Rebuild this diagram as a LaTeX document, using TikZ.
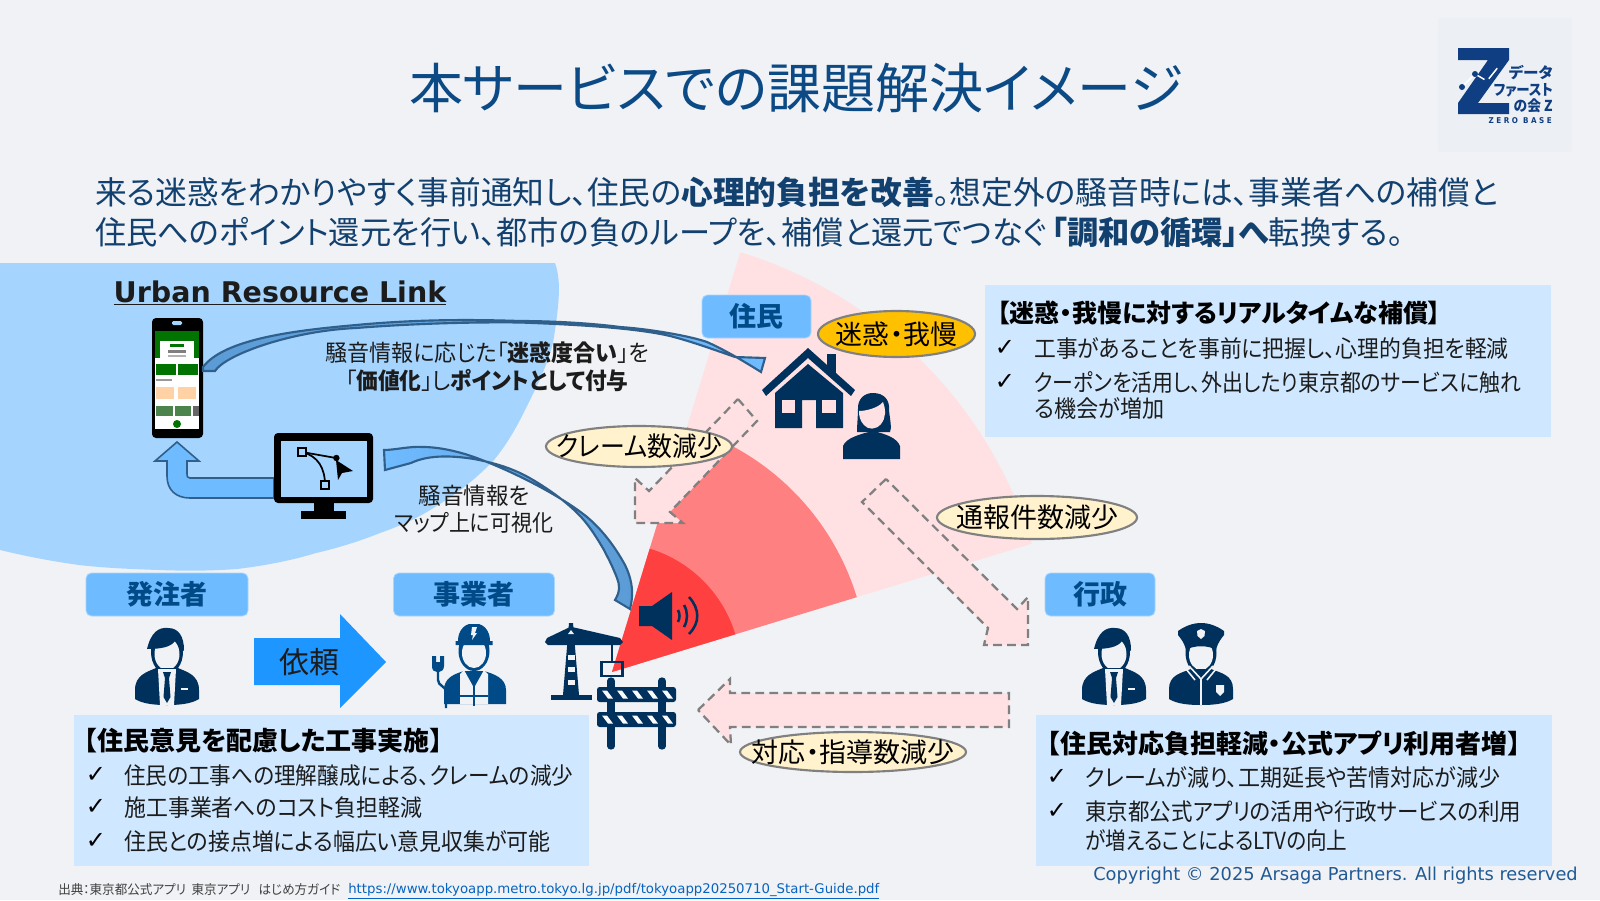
\documentclass[tikz,border=0pt]{standalone}
\usepackage{fontspec}
\setmainfont[RawFeature={+palt}]{Noto Sans CJK JP}
\newfontfamily\latinfont{DejaVu Sans}
\usetikzlibrary{shapes.geometric}
\definecolor{pagebg}{HTML}{F0F2F5}
\definecolor{cloudblue}{HTML}{A5D5FF}
\definecolor{tagblue}{HTML}{6FBBFF}
\definecolor{tagtext}{HTML}{004A87}
\definecolor{infoblue}{HTML}{D0E8FF}
\definecolor{navy}{HTML}{00305C}
\definecolor{titleblue}{HTML}{0B4A85}
\definecolor{leadblue}{HTML}{12406F}
\definecolor{paleRed}{HTML}{FFE1E4}
\definecolor{midRed}{HTML}{FF8080}
\definecolor{hotRed}{HTML}{FF4040}
\definecolor{ellcream}{HTML}{FFF2CC}
\definecolor{ellgold}{HTML}{FFC000}
\definecolor{inktext}{HTML}{1C1C1C}
\definecolor{arrowedge}{HTML}{2F5F8A}
\definecolor{arrowtail}{HTML}{5B9BD5}
\definecolor{logoblue}{HTML}{0F3E82}
\definecolor{reqblue}{HTML}{1E96FF}
\definecolor{logobg}{HTML}{ECEFF3}
\definecolor{urlblue}{HTML}{0563C1}
\definecolor{copyblue}{HTML}{1F5A96}
\def\fpx#1{\fontsize{\fpeval{#1*0.75}}{\fpeval{#1*0.9}}\selectfont}
\newcommand\fitw[2]{\resizebox{\fpeval{#1*0.75}pt}{\height}{#2}}
\tikzset{
  tagbox/.style={fill=tagblue,draw=white!40!tagblue,line width=.6pt,rounded corners=4pt,inner sep=0pt,text=tagtext,font=\fpx{27}\bfseries},
  infobox/.style={fill=infoblue},
  dasharrow/.style={draw=black!50,fill=paleRed,line width=1.7pt,dash pattern=on 6.5pt off 4pt},
  bubbleshape/.style={ellipse,draw=black!50,line width=1.6pt,inner sep=0pt,fill=ellcream},
  bubbletext/.style={anchor=center,inner sep=0pt,text=black,font=\fpx{27}},
  infohead/.style={anchor=west,inner sep=0pt,text=black,font=\fpx{26}\bfseries},
  infoline/.style={anchor=west,inner sep=0pt,text=inktext,font=\fpx{23.5}},
  checkmark/.style={anchor=center,inner sep=0pt,text=black,font=\latinfont\fpx{24}},
  midlabel/.style={anchor=center,inner sep=0pt,text=inktext,font=\fpx{23}},
  curved/.style={draw=arrowedge,line width=1.6pt},
  suitman/.pic={
    \fill[navy] (0,24) ellipse (16 and 22);
    \fill[pagebg] (0,26) ellipse (12.5 and 16);
    \fill[navy] (-20,21) .. controls (-16,4) and (-8,-1) .. (1,0) .. controls (12,0) and (17,9) .. (17,22) -- (13,26) .. controls (13,20) and (11,16) .. (8,13) .. controls (4,19) and (-6,21) .. (-20,21) -- cycle;
    \fill[navy] (-11,40) .. controls (-20,44) and (-32,47) .. (-32,62) -- (-32,71) .. controls (-24,76) and (-12,77) .. (0,77) .. controls (12,77) and (24,76) .. (32,71) -- (32,62) .. controls (32,47) and (20,44) .. (11,40) -- cycle;
    \fill[pagebg] (-9,41) -- (9,41) -- (7,77) -- (-7,77) -- cycle;
    \fill[navy] (-4,44) -- (4,44) -- (2,50) -- (3.5,69) -- (0,75) -- (-3.5,69) -- (-2,50) -- cycle;
    \fill[pagebg] (14,60) rectangle (21,62);
  },
  policeman/.pic={
    \fill[navy] (0,30) ellipse (15.5 and 21);
    \fill[pagebg] (0,32) ellipse (12 and 15);
    \fill[navy] (0,0) .. controls (8,0) and (16,3) .. (23,8) -- (23,12) .. controls (20,16) and (17,19) .. (15,27) .. controls (8,22) and (-8,22) .. (-15,27) .. controls (-17,19) and (-20,16) .. (-23,12) -- (-23,8) .. controls (-16,3) and (-8,0) .. (0,0) -- cycle;
    \fill[pagebg] (0,6) -- (4,8) -- (3.5,13) -- (0,16) -- (-3.5,13) -- (-4,8) -- cycle;
    \fill[navy] (-10,46) .. controls (-20,50) and (-32,52) .. (-32,66) -- (-32,76) .. controls (-24,81) and (-12,82) .. (0,82) .. controls (12,82) and (24,81) .. (32,76) -- (32,66) .. controls (32,52) and (20,50) .. (10,46) -- cycle;
    \draw[pagebg,line width=1.2pt] (-12,43) -- (0,56) -- (12,43) (-15,46) -- (-6,57) (15,46) -- (6,57) (0,56) -- (0,82);
    \fill[pagebg] (15,62) -- (23,62) -- (23,69) -- (19,73) -- (15,69) -- cycle;
  },
  workerman/.pic={
    \fill[tagtext] (0,27) ellipse (15.5 and 20);
    \fill[pagebg] (0,29) ellipse (12 and 15);
    \fill[tagtext] (-16,17) .. controls (-16,6) and (-9,1) .. (-5,0) -- (5,0) .. controls (9,1) and (16,6) .. (16,17) -- (18.5,17) -- (18.5,21) -- (-18.5,21) -- (-18.5,17) -- cycle;
    \fill[pagebg] (-2,3) -- (3,3) -- (1,9) -- (3,9) -- (-2,16) -- (-1,11) -- (-3,11) -- cycle;
    \fill[tagtext] (-10,47) .. controls (-20,50) and (-30,54) .. (-30,66) -- (-30,80) -- (32,80) -- (32,66) .. controls (32,54) and (20,50) .. (10,47) -- cycle;
    \fill[pagebg] (-10,46) -- (0,64) -- (10,46) -- (14,50) -- (14,80) -- (-14,80) -- (-14,50) -- cycle;
    \fill[tagtext] (-7,48) -- (7,48) -- (0,62) -- cycle;
    \draw[tagtext,line width=1.6pt] (-14,72) -- (14,72) (0,62) -- (0,82);
    \fill[tagtext] (-42,32) -- (-38,32) -- (-38,38) -- (-34,38) -- (-34,32) -- (-30,32) -- (-30,42) .. controls (-30,46) and (-33,48) .. (-35,48) -- (-37,48) .. controls (-40,48) and (-42,46) .. (-42,42) -- cycle;
    \draw[tagtext,line width=1.8pt] (-36,48) -- (-36,56) .. controls (-36,62) and (-28,62) .. (-28,68) -- (-28,84);
  }
}
\begin{document}
\begin{tikzpicture}[x=0.75pt,y=-0.75pt,every node/.style={inner sep=0pt}]
\useasboundingbox (0,0) rectangle (1600,900);
\fill[pagebg] (0,0) rectangle (1600,900);

% logo
\fill[logobg] (1438,18) rectangle (1572,152);
\fill[logoblue] (1458,48) -- (1509,48) -- (1509,60) -- (1478,103) -- (1509,103) -- (1509,114) -- (1458,114) -- (1458,103) -- (1488,60) -- (1458,60) -- cycle;
\draw[white,line width=1.1pt] (1462,87) -- (1475,74) -- (1487,81) -- (1499,66);
\foreach \px/\py in {1462/87,1475/74,1487/81,1499/66}{\fill[logoblue] (\px,\py) circle (3);}
\node[anchor=east,text=logoblue,font=\fpx{15}\bfseries] (logoa) at (1553,73) {\fitw{44}{データ}};
\node[anchor=east,text=logoblue,font=\fpx{15}\bfseries] (logob) at (1553,90) {\fitw{59}{ファースト}};
\node[anchor=east,text=logoblue,font=\fpx{15}\bfseries] (logoc) at (1553,106) {\fitw{39}{の会 Z}};
\node[anchor=east,text=logoblue,font=\latinfont\fpx{8}\bfseries] (logod) at (1552,121) {\fitw{63}{Z E R O \ B A S E}};

% title + lead
\node[text=titleblue,font=\fpx{54}] (title) at (796,88) {本サービスでの課題解決イメージ};
\node[anchor=west,text=leadblue,font=\fpx{32}] (leada) at (95,192) {\fitw{1403}{来る迷惑をわかりやすく事前通知し、住民の\textbf{心理的負担を改善}。想定外の騒音時には、事業者への補償と}};
\node[anchor=west,text=leadblue,font=\fpx{32}] (leadb) at (95,232) {\fitw{1308}{住民へのポイント還元を行い、都市の負のループを、補償と還元でつなぐ\,\textbf{「調和の循環」へ}転換する。}};

% sound fan
\fill[paleRed] (612,672) -- plot[domain=17:73,samples=50] ({612+439*cos(\x)},{672-439*sin(\x)}) -- cycle;
\fill[midRed] (612,672) -- plot[domain=17:73,samples=40] ({612+256*cos(\x)},{672-256*sin(\x)}) -- cycle;
\fill[hotRed] (612,672) -- plot[domain=17:73,samples=30] ({612+129*cos(\x)},{672-129*sin(\x)}) -- cycle;

% urban resource link cloud
\fill[cloudblue] (0,263) -- (555,263) .. controls (561,280) and (560,300) .. (553,343) .. controls (547,365) and (540,380) .. (530,400) .. controls (518,425) and (508,443) .. (494,460) .. controls (475,480) and (455,495) .. (435,507) .. controls (418,518) and (400,526) .. (380,533) .. controls (360,541) and (338,548) .. (316,553) .. controls (290,561) and (262,566) .. (237,569) .. controls (210,571) and (185,571) .. (158,570) .. controls (130,569) and (105,568) .. (79,565) .. controls (50,561) and (25,556) .. (0,550) -- cycle;

% dashed block arrows
\draw[dasharrow] (738,399) -- (757,421) -- (670,512) -- (683,523) -- (635,523) -- (635,478) -- (649,491) -- cycle;
\draw[dasharrow] (886,479) -- (862,502) -- (988,628) -- (984,645) -- (1028,645) -- (1028,597) -- (1017,609) -- cycle;
\draw[dasharrow] (698,710) -- (730,679) -- (730,693) -- (1009,693) -- (1009,727) -- (730,727) -- (731,745) -- cycle;

% heading
\node[text=inktext,font=\latinfont\fpx{28.5}\bfseries] (urbanlink) at (280,293) {\underline{Urban Resource Link}};

% phone
\fill[black,rounded corners=3pt] (152,318) rectangle (203,438);
\fill[white] (155,331) rectangle (199,429);
\fill[cloudblue,rounded corners=1pt] (172,321) rectangle (182,325);
\fill[green!45!black] (155,331) rectangle (199,358);
\fill[white] (160,341) rectangle (194,360);
\fill[green!45!black] (170,344) rectangle (184,347);
\fill[black!50] (168,350) rectangle (186,353);
\fill[black!30] (168,355) rectangle (186,357);
\fill[green!45!black] (156,364) rectangle (176,375);
\fill[green!45!black] (178,364) rectangle (198,375);
\fill[black!40] (156,379) rectangle (172,381);
\fill[orange!35!white] (156,387) rectangle (174,399);
\fill[orange!35!white] (178,387) rectangle (196,399);
\fill[green!30!black!70] (156,406) rectangle (173,416);
\fill[green!30!black!70] (175,406) rectangle (191,416);
\fill[black!60] (193,406) rectangle (199,416);
\fill[green!45!black] (177,424) circle (4);

% bent arrow from monitor to phone
\path[draw=arrowedge,fill=tagblue,line width=1.2pt] (274,478) -- (190,478) .. controls (187,478) and (187,476) .. (187,474) -- (187,461) -- (199,461) -- (177,442) -- (155,461) -- (167,461) -- (167,476) .. controls (167,490) and (176,498) .. (190,498) -- (274,498) -- cycle;

% monitor
\fill[black,rounded corners=3pt] (274,433) rectangle (373,503);
\fill[cloudblue] (281,441) rectangle (367,497);
\fill[black] (314,503) rectangle (334,512);
\fill[black] (301,511) rectangle (346,518.5);
\draw[black,line width=1.3pt] (302,452) .. controls (318,456) and (325,468) .. (325,485);
\draw[black,line width=1.3pt] (302,452) -- (336,458);
\draw[black,line width=1.1pt,fill=cloudblue] (298,448) rectangle (306,456);
\draw[black,line width=1.1pt,fill=cloudblue] (321,481) rectangle (329,489);
\fill[black] (336.4,458) circle (3.2);
\fill[black] (336,460) -- (353,471) -- (342,473) -- (338,480) -- cycle;

% curved arrows
\path[curved,left color=arrowtail,right color=tagblue] (215,371) .. controls (225,355) and (290,331) .. (356,328) .. controls (420,323) and (480,322) .. (520,322.5) .. controls (590,325) and (640,329) .. (670,336) .. controls (690,341) and (715,350) .. (735,357) -- (765,358) -- (761,372) .. controls (745,362) and (725,350) .. (707,342) .. controls (690,336) and (650,329) .. (620,327) .. controls (590,323) and (550,321) .. (520,321) .. controls (460,319) and (410,320) .. (356,325) .. controls (300,330) and (225,338) .. (203,367) -- (203,371) -- cycle;
\path[curved,left color=tagblue,right color=arrowtail] (384,450) .. controls (395,450) and (410,446) .. (423,447) .. controls (440,447) and (460,452) .. (474,457) .. controls (510,470) and (560,495) .. (587,517) .. controls (605,532) and (618,552) .. (625,565) .. controls (630,575) and (635,590) .. (630,609) -- (615,600) .. controls (620,592) and (620,585) .. (617,578) .. controls (612,565) and (608,558) .. (604,550) .. controls (597,538) and (590,527) .. (582,518) .. controls (565,499) and (535,480) .. (520,473) .. controls (505,466) and (490,462) .. (474,459) .. controls (455,456) and (430,454) .. (411,463) -- (385,470) -- cycle;

% labels over the cloud
\node[midlabel] (noisea) at (487,353) {\fitw{323.5}{騒音情報に応じた「\textbf{迷惑度合い}」を}};
\node[midlabel] (noiseb) at (487,381) {\fitw{283}{「\textbf{価値化}」し\textbf{ポイントとして付与}}};
\node[midlabel] (mapa) at (474,496) {\fitw{111}{騒音情報を}};
\node[midlabel] (mapb) at (474,523) {\fitw{159}{マップ上に可視化}};

% role tags
\node[tagbox,minimum width=109*.75pt,minimum height=43*.75pt] (tagres) at (756.5,316.5) {住民};
\node[tagbox,minimum width=162*.75pt,minimum height=43*.75pt] (tagclient) at (167,594.5) {発注者};
\node[tagbox,minimum width=161*.75pt,minimum height=43*.75pt] (tagcontractor) at (474,594.5) {事業者};
\node[tagbox,minimum width=110*.75pt,minimum height=43*.75pt] (taggov) at (1100,594.5) {行政};

% bubbles
\node[bubbleshape,minimum width=186*.75pt,minimum height=41*.75pt] (bclaim) at (639,446.5) {};
\node[bubbletext] (bclaimt) at (bclaim.center) {\fitw{166}{クレーム数減少}};
\node[bubbleshape,minimum width=200*.75pt,minimum height=43*.75pt] (breport) at (1037,517.5) {};
\node[bubbletext] (breportt) at (breport.center) {通報件数減少};
\node[bubbleshape,minimum width=226*.75pt,minimum height=40*.75pt] (bguide) at (853,752) {};
\node[bubbletext] (bguidet) at (bguide.center) {対応・指導数減少};
\node[bubbleshape,fill=ellgold,minimum width=157*.75pt,minimum height=46*.75pt] (bannoy) at (896.5,334) {};
\node[bubbletext] (bannoyt) at (bannoy.center) {迷惑・我慢};

% house
\fill[navy] (775,393) -- (808,364) -- (843,393) -- (843,428) -- (816,428) -- (816,400) -- (802,400) -- (802,428) -- (775,428) -- cycle;
\fill[paleRed] (782,400) rectangle (795,413);
\fill[paleRed] (822,400) rectangle (836,413);
\fill[navy] (827,354) rectangle (836,374);
\fill[navy] (762,390) -- (808,348) -- (855,390) -- (851,396) -- (808,358) -- (766,396) -- cycle;
% woman
\fill[navy] (873,393) .. controls (884,393) and (890,400) .. (889,410) .. controls (890,420) and (892,428) .. (890,432) -- (857,432) .. controls (857,425) and (858,416) .. (858,408) .. controls (858,399) and (864,393) .. (873,393) -- cycle;
\fill[paleRed] (859,411) .. controls (866,411) and (878,408) .. (883,402) .. controls (886,410) and (886,418) .. (881,424) .. controls (876,430) and (868,430) .. (864,425) .. controls (860,421) and (859,416) .. (859,411) -- cycle;
\fill[navy] (843,459) -- (843,446) .. controls (846,438) and (860,434) .. (873,431) .. controls (886,434) and (897,438) .. (900,446) -- (900,459) -- cycle;

% speaker
\fill[navy] (639,606) -- (652,606) -- (672,592) -- (672,640) -- (652,626) -- (639,626) -- cycle;
\draw[navy,line width=1.9pt] (678,610) .. controls (680,614) and (680,618) .. (678,622);
\draw[navy,line width=1.9pt] (684,605) .. controls (688,612) and (688,620) .. (684,627);
\draw[navy,line width=1.9pt] (689,597) .. controls (700,609) and (700,623) .. (689,634);

% crane
\fill[navy] (551,695) rectangle (592,700);
\fill[navy] (569,623) -- (573,623) -- (579,695) -- (563,695) -- cycle;
\fill[navy] (545,642) -- (547,638) -- (570,627) -- (572,627) -- (620,638) -- (623,642) -- (620,645) -- (548,645) -- cycle;
\fill[pagebg] (568,634) -- (571,630) -- (574,634) -- cycle;
\foreach \yy in {655,667,680}{\fill[pagebg] (567.5,\yy) rectangle (574.5,\yy+5);}
\draw[navy,line width=1.6pt] (612,644) -- (612,662);
\draw[navy,line width=2.2pt] (601.5,662) rectangle (622.5,676);

% barricade
\foreach \lx in {611,662}{\draw[navy,line width=5.5pt,line cap=round] (\lx,681) -- (\lx,746);}
\foreach \ry in {687,712}{
  \fill[navy,rounded corners=2pt] (597,\ry) rectangle (676,\ry+15);
  \foreach \sx in {602,617,632,647,662}{\fill[white!70!pagebg] (\sx,\ry+3.5) -- (\sx+5,\ry+3.5) -- (\sx+11,\ry+11.5) -- (\sx+6,\ry+11.5) -- cycle;}
}

% people
\pic at (167,628) {suitman};
\pic at (1114,628) {suitman};
\pic at (1201,623) {policeman};
\pic at (474,624) {workerman};

% request arrow
\fill[reqblue] (254,638) -- (340,638) -- (340,614) -- (386,662) -- (340,708) -- (340,685) -- (254,685) -- cycle;
\node[text=inktext,font=\fpx{30}] (request) at (309,662) {依頼};

% info boxes
\fill[infobox] (985,285) rectangle (1551,437);
\node[infohead,font=\fpx{25}\bfseries] (ha) at (997,313) {【迷惑・我慢に対するリアルタイムな補償】};
\node[checkmark] (ca1) at (1005,348) {✓};
\node[infoline] (ta1) at (1034,349) {\fitw{474.5}{工事があることを事前に把握し、心理的負担を軽減}};
\node[checkmark] (ca2) at (1005,382) {✓};
\node[infoline] (ta2) at (1034,383) {\fitw{487}{クーポンを活用し、外出したり東京都のサービスに触れ}};
\node[infoline] (ta3) at (1034,409) {\fitw{130}{る機会が増加}};

\fill[infobox] (74,715) rectangle (589,866);
\node[infohead] (hb) at (84,741) {【住民意見を配慮した工事実施】};
\node[checkmark] (cb1) at (96,775) {✓};
\node[infoline] (tb1) at (124,776) {\fitw{449}{住民の工事への理解醸成による、クレームの減少}};
\node[checkmark] (cb2) at (96,807) {✓};
\node[infoline] (tb2) at (124,808) {\fitw{298}{施工事業者へのコスト負担軽減}};
\node[checkmark] (cb3) at (96,841) {✓};
\node[infoline] (tb3) at (124,842) {\fitw{426.5}{住民との接点増による幅広い意見収集が可能}};

\fill[infobox] (1036,715) rectangle (1552,866);
\node[infohead] (hc) at (1047,744) {【住民対応負担軽減・公式アプリ利用者増】};
\node[checkmark] (cc1) at (1057,777) {✓};
\node[infoline] (tc1) at (1085,778) {\fitw{415}{クレームが減り、工期延長や苦情対応が減少}};
\node[checkmark] (cc2) at (1057,811) {✓};
\node[infoline] (tc2) at (1085,812) {\fitw{436}{東京都公式アプリの活用や行政サービスの利用}};
\node[infoline] (tc3) at (1085,840) {\fitw{262}{が増えることによるLTVの向上}};

% footer
\node[anchor=west,text=black!75,font=\fpx{13}] (source) at (58,890) {\fitw{282}{出典：東京都公式アプリ\ \ 東京アプリ\ \ \ はじめ方ガイド}};
\node[anchor=west,text=urlblue,font=\latinfont\fpx{13.3}] (url) at (348,891) {\underline{https://www.tokyoapp.metro.tokyo.lg.jp/pdf/tokyoapp20250710\_Start-Guide.pdf}};
\node[anchor=east,text=copyblue,font=\latinfont\fpx{17.8}] (copy) at (1578,876) {Copyright © 2025 Arsaga Partners. All rights reserved};
\end{tikzpicture}
\end{document}
